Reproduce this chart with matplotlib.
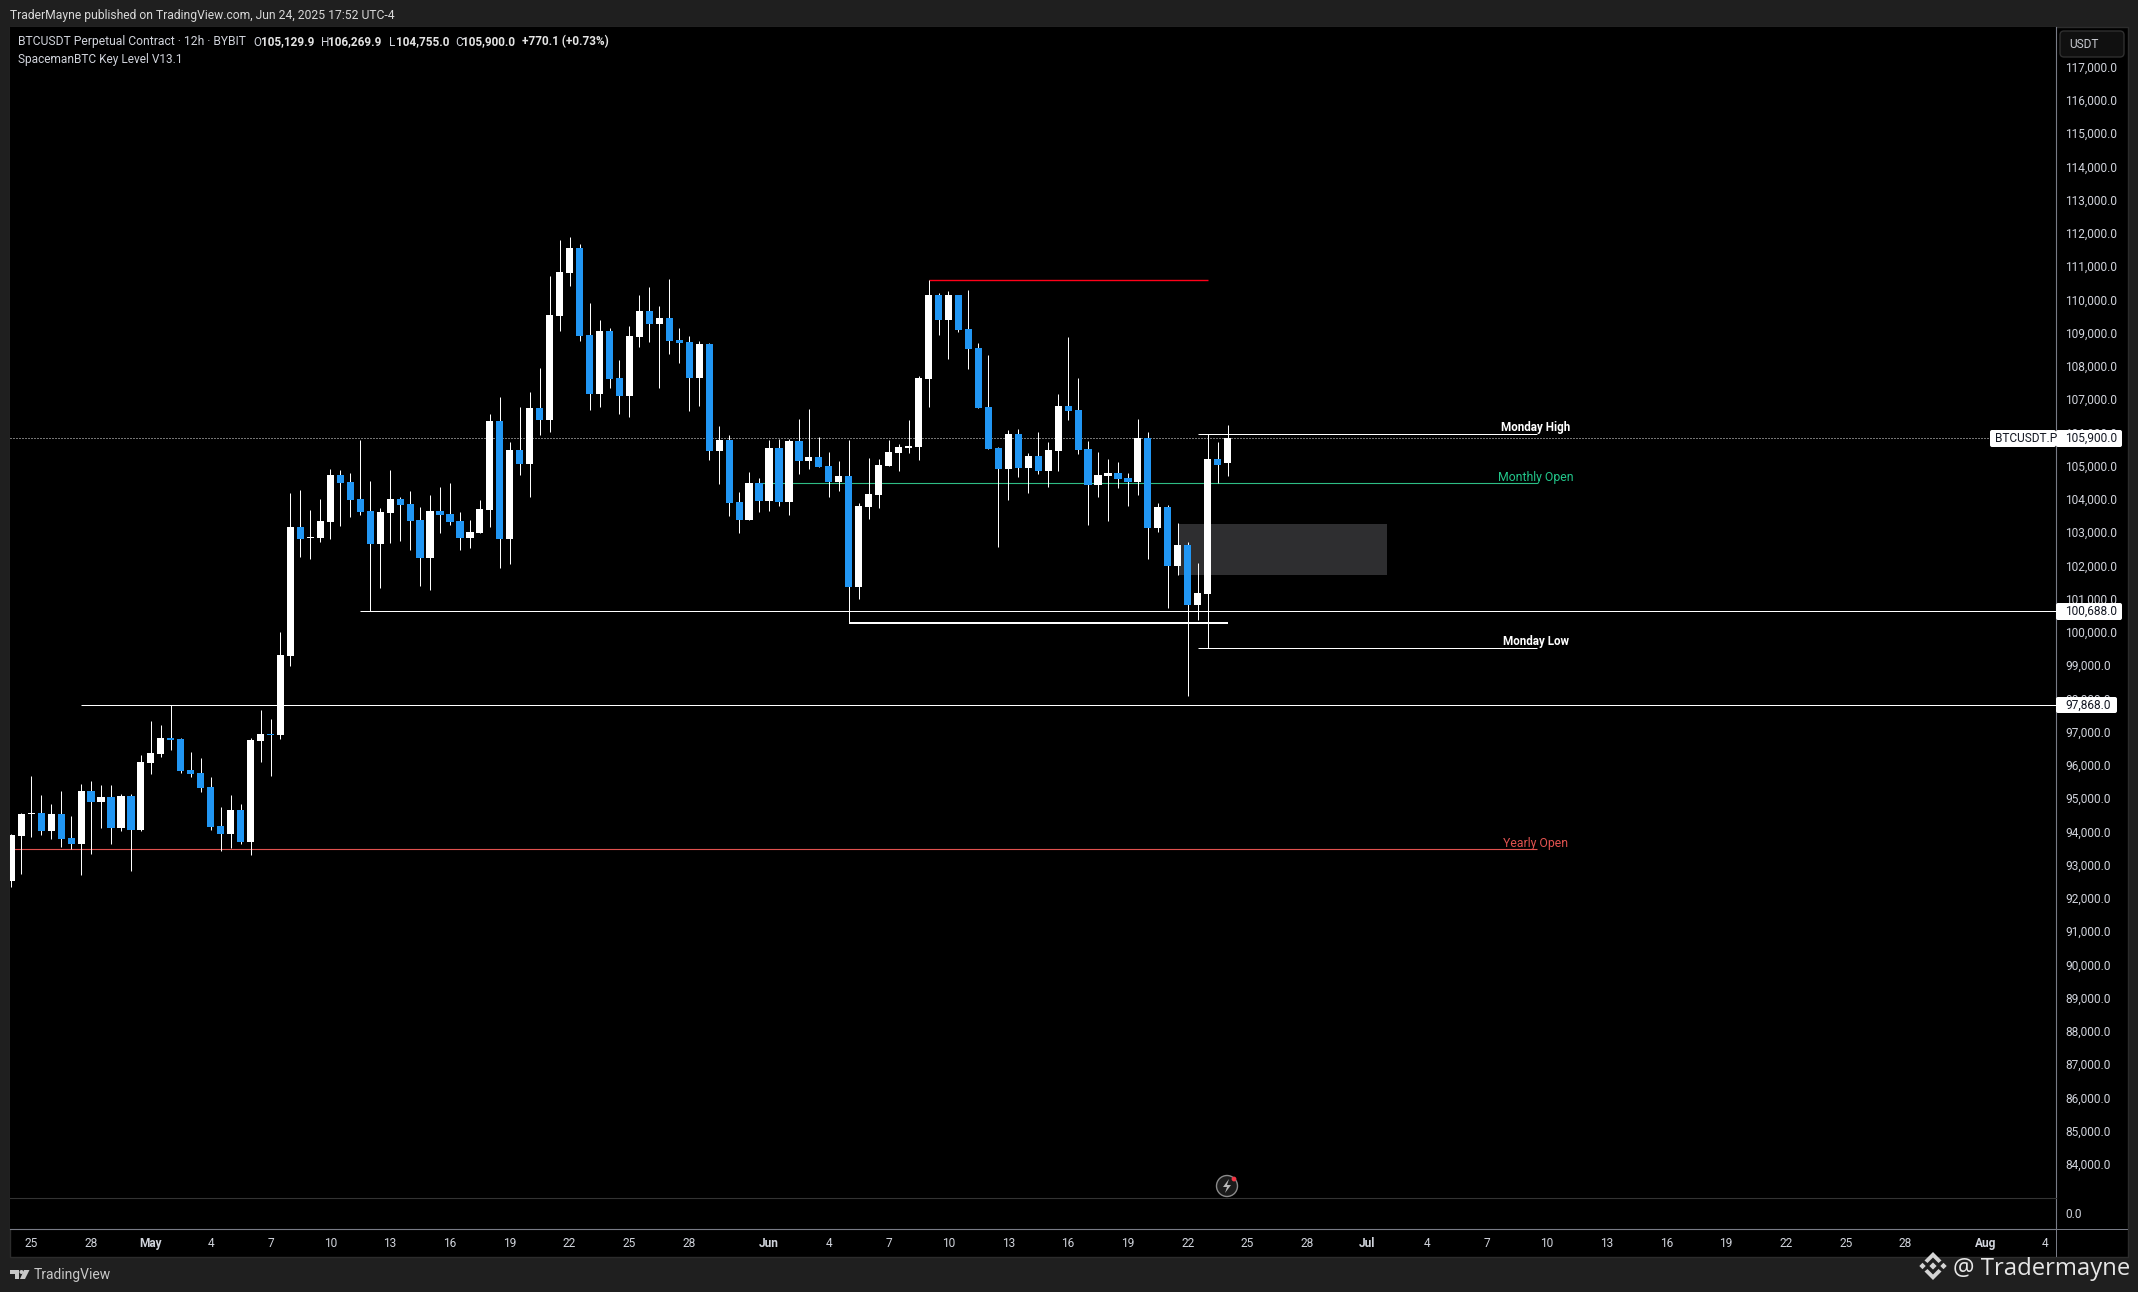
import matplotlib
matplotlib.use("Agg")
import matplotlib.pyplot as plt
from matplotlib.patches import Rectangle, FancyBboxPatch, Polygon, Circle
from matplotlib.transforms import Affine2D

# ---------- data ----------
highs = [93983,94615,95728,95156,94886,95277,94525,95487,95577,95457,95457,95186,95186,96359,97382,97262,97853,96871,96450,96269,
         95698,94795,95156,94886,96871,97713,97442,100059,104240,104330,103728,104059,104961,104931,104841,105833,104600,103788,104931,104119,
         104300,103818,104179,104420,104540,103668,103427,104029,106615,107127,105773,106826,107277,107999,110766,111848,111939,111728,109954,109442,
         109202,108239,109262,110194,110435,109863,110675,109202,108961,108811,108751,106254,105984,104269,104871,104690,105833,105863,105863,106465,
         106766,105923,105472,105202,105833,103939,105292,105262,105833,105713,106435,107758,110645,110255,110315,110194,110345,108751,108390,105623,
         106134,106164,105443,106074,105773,107217,108931,107698,105803,105473,105262,105172,104841,106465,106074,103939,103878,103337,102765,102134,
         106003,105773,106269.9]
lows = [92389,92780,93893,93953,93833,93592,93532,92750,93382,94164,93683,94074,92871,94074,95788,96299,96510,95818,95698,95247,
        94104,93472,93562,93683,93352,96149,95728,96841,99036,102315,102255,102766,102856,103247,103518,103578,100681,101382,102736,102796,
        102525,101443,101322,103037,103277,102525,102585,103037,103217,101984,102104,104781,104119,105984,106074,109112,110465,108811,106736,106826,
        107397,106615,106525,108630,108781,107397,108420,108149,106705,106856,105232,104510,103548,103036,103427,103668,103698,103848,103578,104811,
        104961,105021,104119,104299,100320,101052,103457,103788,105051,104901,105442,105232,106826,108991,108270,109082,107969,106796,105563,102615,
        104029,104721,104240,104811,104420,104901,106435,105412,103277,104119,103397,104390,103849,104179,102255,103067,100780,101773,98134,100420,
        99567,104540,104755]
opens = [92570,93923,94585,94615,94074,94585,93863,93683,95277,94946,95096,94164,95126,94104,96119,96389,96871,96841,95908,95818,
         95397,94224,93983,94705,93743,96780,96991,96961,99337,103217,102886,102886,103367,104781,104570,104059,103698,102706,103638,104059,
         103909,103427,102285,103698,103608,103397,102886,103037,103728,106405,102856,105533,105112,106796,106435,109563,110856,111608,108991,107217,
         109112,107698,107157,108931,109713,109322,109502,108841,108781,107698,108720,105502,105833,103969,103427,104540,103999,105593,103969,105803,
         105202,105322,105051,104570,104751,101412,103818,104179,105051,105442,105593,105623,107668,110194,109442,110194,109172,108600,106826,105593,
         104961,106014,104991,105352,104901,105503,106856,106736,105563,104480,104751,104841,104691,104570,105894,103187,103818,102044,102675,100871,
         101202,105262,105129.9]
closes = [93953,94585,94615,94074,94585,93833,93683,95277,94946,95096,94164,95126,94104,96149,96420,96871,96810,95878,95788,95367,
          94194,93983,94705,93743,96810,96991,96961,99367,103217,102856,102916,103397,104781,104540,104029,103668,102706,103668,104059,103879,
          103397,102285,103698,103578,103367,102886,103067,103758,106405,102856,105533,105112,106796,106435,109593,110886,111608,108961,107217,109112,
          107668,107157,108961,109713,109322,109502,108811,108751,107698,108720,105502,105833,103939,103427,104540,103999,105593,103969,105803,105202,
          105322,105021,104570,104751,101412,103848,104209,105081,105472,105623,105653,107698,110194,109442,110194,109142,108570,106796,105563,104961,
          106014,104991,105352,104901,105533,106856,106706,105533,104480,104781,104841,104661,104570,105894,103187,103818,102044,102675,100871,101232,
          105262,105081,105900.0]

price_ticks = list(range(84000, 118000, 1000))
xtick_days = [0,3,6,9,12,15,18,21,24,27,30,33,37,40,43,46,49,52,55,58,61,64,67,70,73,76,79,82,85,88,91,94,98,101]
xtick_labels = ["25","28","May","4","7","10","13","16","19","22","25","28","Jun","4","7","10","13","16","19","22","25","28",
                "Jul","4","7","10","13","16","19","22","25","28","Aug","4"]
last_price = 105900.0
level_a = 100688.0
level_b = 97868.0
level_thick = 100339
level_red = 110646
monday_high = 106003
monday_low = 99567
monthly_open = 104530
yearly_open = 93522
zone_top, zone_bottom = 103307, 101773

# ---------- style ----------
W, H = 2138, 1292
BG = "#1f1f1f"
UP = "#ffffff"
DOWN = "#2196f3"
TXT = "#d1d4dc"
plt.rcParams["font.family"] = ["Roboto", "DejaVu Sans"]

fig = plt.figure(figsize=(W/100, H/100), dpi=100, facecolor=BG)
px = Affine2D().scale(1, -1).translate(0, H)

def axes_px(x0, y0, x1, y1):
    return fig.add_axes([x0/W, 1-y1/H, (x1-x0)/W, (y1-y0)/H])

L, R, T, SEP, AX_B, B = 10, 2056, 27, 1198, 1229, 1257
x_of = lambda p: (p-11.3)/9.97
XMIN, XMAX = x_of(L), x_of(R)

fig.add_artist(Rectangle((L, T), 2128-L, B-T, transform=px, fc="#000000", ec="#2c2c2c", lw=1, zorder=-5))

ax = axes_px(L, T, R, SEP)
ax.set_facecolor("#000000")
ax.set_xlim(XMIN, XMAX)
ax.set_ylim(105000+(467.7-SEP)*30.075, 105000+(467.7-T)*30.075)

# zone and level lines
ax.add_patch(Rectangle((117, zone_bottom), 21, zone_top-zone_bottom, fc="#2e2e30", ec="none", zorder=1))
ax.hlines(last_price, XMIN, x_of(1989), color="#e8e8e8", lw=0.72, linestyles=[(0, (1, 2))], zorder=1.5)
ax.hlines(monthly_open, 75, 153, color="#2ebd85", lw=0.8, zorder=1.6)
ax.hlines(yearly_open, 0, 153, color="#e0524f", lw=0.8, zorder=1.6)
ax.hlines(level_red, 92, 120, color="#ff0019", lw=1.0, zorder=1.6)

# candles
xs = list(range(len(opens)))
cols = [UP if c >= o else DOWN for o, c in zip(opens, closes)]
bott = [min(o, c) for o, c in zip(opens, closes)]
hgt = [max(abs(c-o), 32) for o, c in zip(opens, closes)]
ax.vlines(xs, lows, highs, colors=UP, lw=0.72, zorder=2)
ax.bar(xs, hgt, bottom=bott, width=0.72, color=cols, linewidth=0, zorder=3, antialiased=False)

ax.hlines(level_a, 35, XMAX, color="#ffffff", lw=0.72, zorder=4)
ax.hlines(level_b, 7, XMAX, color="#ffffff", lw=0.72, zorder=4)
ax.hlines(level_thick, 84, 122, color="#ffffff", lw=1.44, zorder=4)
ax.hlines(monday_high, 119, 153, color="#ffffff", lw=0.72, zorder=4)
ax.hlines(monday_low, 119, 153, color="#ffffff", lw=0.72, zorder=4)

ax.yaxis.tick_right()
ax.set_yticks(price_ticks)
ax.set_yticklabels([f"{v:,.1f}" for v in price_ticks])
ax.tick_params(axis="y", length=0, pad=6.6, labelsize=8.6, labelcolor=TXT)
ax.set_xticks([])
shift_up = Affine2D().translate(0, 2)
for lab in ax.get_yticklabels():
    lab.set_ha("left")
    lab.set_transform(lab.get_transform() + shift_up)
for s in ("top", "left", "bottom"):
    ax.spines[s].set_visible(False)
ax.spines["right"].set_color("#787b86")
ax.spines["right"].set_linewidth(0.8)

# lower pane and time axis
pane = axes_px(L, SEP, R, AX_B)
pane.set_facecolor("#000000")
pane.set_xlim(XMIN, XMAX)
pane.set_ylim(-1, 1)
pane.yaxis.tick_right()
pane.set_yticks([0])
pane.set_yticklabels(["0.0"])
pane.tick_params(axis="y", length=0, pad=6.6, labelsize=8.6, labelcolor=TXT)
pane.set_xticks([2+2*d for d in xtick_days])
pane.set_xticklabels(xtick_labels)
pane.tick_params(axis="x", length=0, pad=5.8, labelsize=8.6, labelcolor=TXT)
for lab in pane.get_xticklabels():
    if lab.get_text() in ("May", "Jun", "Jul", "Aug"):
        lab.set_fontweight("bold")
for s in ("left",):
    pane.spines[s].set_visible(False)
pane.spines["top"].set_color("#333333")
pane.spines["top"].set_linewidth(0.8)
pane.spines["bottom"].set_color("#787b86")
pane.spines["bottom"].set_linewidth(0.8)
pane.spines["right"].set_color("#787b86")
pane.spines["right"].set_linewidth(0.8)
fig.add_artist(Rectangle((R, AX_B), 72, 0.8, transform=px, fc="#787b86", ec="none", zorder=1))
fig.add_artist(Rectangle((R-0.5, AX_B), 1, B-AX_B, transform=px, fc="#787b86", ec="none", zorder=1))
fig.add_artist(Rectangle((R, SEP-0.4), 72, 0.8, transform=px, fc="#333333", ec="none", zorder=1))

def txt(x, y, s, color=TXT, size=8.6, weight="normal", ha="left", va="center", **kw):
    fig.text(x, y, s, transform=px, color=color, fontsize=size, fontweight=weight, ha=ha, va=va, **kw)

# header
txt(10, 15, "TraderMayne published on TradingView.com, Jun 24, 2025 17:52 UTC-4", size=8.7, color="#d8d8d8")
txt(18, 42, "BTCUSDT Perpetual Contract · 12h · BYBIT", size=8.75)
for x, s, bold in [(253, "O", 0), (261, "105,129.9", 1), (320.5, "H", 0), (328, "106,269.9", 1),
                   (389, "L", 0), (396, "104,755.0", 1), (455, "C", 0), (462, "105,900.0", 1),
                   (522, "+770.1 (+0.73%)", 1)]:
    txt(x, 42, s, size=8.5, weight="bold" if bold else "normal", color="#e4e4e4" if bold else TXT)
txt(18, 59, "SpacemanBTC Key Level V13.1", size=8.6)

# USDT button
fig.add_artist(FancyBboxPatch((2062, 33), 60, 22, boxstyle="round,pad=2,rounding_size=4", transform=px,
                              fc="#101010", ec="#2f2f2f", lw=1, zorder=2))
txt(2069, 45, "USDT", size=8.6, color="#c8cad0")

# price tags
def tag(x0, x1, y0, y1, s, tx, ha="left"):
    fig.add_artist(FancyBboxPatch((x0+1, y0+1), x1-x0-2, y1-y0-2, boxstyle="round,pad=1,rounding_size=2",
                                  transform=px, fc="#ffffff", ec="none", zorder=4))
    fig.text(tx, (y0+y1)/2, s, transform=px, color="#131722", fontsize=8.6, ha=ha, va="center", zorder=5)

tag(1990, 2056, 430, 447, "BTCUSDT.P", 1995)
tag(2056, 2122, 430, 447, f"{last_price:,.1f}", 2065)
tag(2056, 2122, 603, 620, f"{level_a:,.1f}", 2065)
tag(2056, 2117, 697, 713, f"{level_b:,.1f}", 2065)

# level captions
txt(1536, 427, "Monday High", size=8.4, color="#ffffff", weight="bold", ha="center")
txt(1536, 477, "Monthly Open", size=8.8, color="#22c68a", ha="center")
txt(1536, 641, "Monday Low", size=8.4, color="#ffffff", weight="bold", ha="center")
txt(1536, 843, "Yearly Open", size=8.8, color="#e0524f", ha="center")

# replay badge
fig.add_artist(Circle((1227, 1186), 10.5, transform=px, fc="#1a1a1a", ec="#8a8a8a", lw=1, zorder=2))
fig.add_artist(Polygon([(1229, 1179), (1223, 1187), (1227, 1187), (1225, 1193), (1231, 1185), (1227, 1185)],
                       closed=True, transform=px, fc="#b8b8b8", ec="none", zorder=3))
fig.add_artist(Circle((1234, 1179), 2.4, transform=px, fc="#f23645", ec="none", zorder=4))

# footer: TradingView mark
tv = "#c8c8c8"
fig.add_artist(Polygon([(10, 1270), (19, 1270), (19, 1279), (15, 1279), (15, 1274), (10, 1274)], closed=True,
                       transform=px, fc=tv, ec="none", zorder=3))
fig.add_artist(Circle((21.5, 1272), 2, transform=px, fc=tv, ec="none", zorder=3))
fig.add_artist(Polygon([(24, 1270), (29.5, 1270), (25, 1279), (20, 1279)], closed=True,
                       transform=px, fc=tv, ec="none", zorder=3))
txt(33.5, 1275, "TradingView", size=10, color="#c8c8c8")

# footer: watermark
logo = "#d4d4d4"
cx, cy = 1933, 1266
def dia(dx, dy, r):
    fig.add_artist(Polygon([(cx+dx, cy+dy-r), (cx+dx+r, cy+dy), (cx+dx, cy+dy+r), (cx+dx-r, cy+dy)], closed=True,
                           transform=px, fc=logo, ec="none", zorder=3))
dia(0, 0, 3.6)
dia(-10.5, 0, 3.2)
dia(10.5, 0, 3.2)
fig.add_artist(Polygon([(cx, cy-14), (cx+8.5, cy-5.5), (cx+5.5, cy-3), (cx, cy-8.5), (cx-5.5, cy-3), (cx-8.5, cy-5.5)],
                       closed=True, transform=px, fc=logo, ec="none", zorder=3))
fig.add_artist(Polygon([(cx, cy+14), (cx+8.5, cy+5.5), (cx+5.5, cy+3), (cx, cy+8.5), (cx-5.5, cy+3), (cx-8.5, cy+5.5)],
                       closed=True, transform=px, fc=logo, ec="none", zorder=3))
fig.text(1953, 1275, "@ Tradermayne", transform=px, color="#e6e6e6", fontsize=17.2, family="Open Sans",
         ha="left", va="baseline", zorder=5)

fig.savefig("out.png", dpi=100, facecolor=BG)
